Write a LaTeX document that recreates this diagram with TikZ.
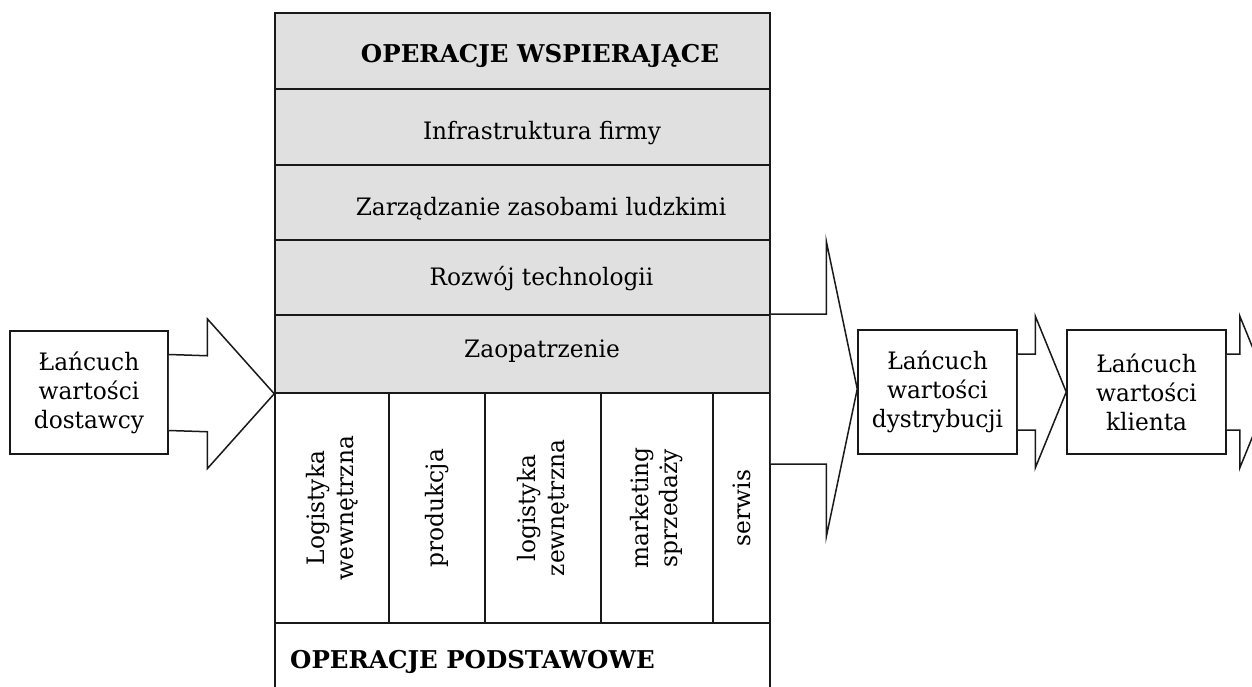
\documentclass[tikz,border=0pt]{standalone}
\usepackage{fontspec}
\setmainfont{DejaVu Serif}[FakeStretch=0.97]
\newfontfamily\headfont{DejaVu Serif}
\usetikzlibrary{calc}

\tikzset{
  frame/.style={draw=black!90, line width=1.5pt, inner sep=0pt},
  band/.style={frame, fill=black!12, minimum width=495pt},
  column/.style={frame, fill=white, minimum height=230pt},
  chainbox/.style={frame, fill=white, minimum width=158pt, minimum height=123pt,
    align=center, font=\fontsize{24}{29}\selectfont},
  rowtext/.style={inner sep=0pt, anchor=base, font=\fontsize{24}{29}\selectfont},
  headtext/.style={inner sep=0pt, font=\headfont\bfseries\fontsize{24.5}{29}\selectfont},
  coltext/.style={inner sep=0pt, rotate=90, align=center, font=\fontsize{24}{29}\selectfont},
  blockarrow/.style={draw=black!90, line width=1.5pt, fill=white, line join=miter}
}

\begin{document}
\begin{tikzpicture}[x=1pt, y=-1pt]
\useasboundingbox (0,0) rectangle (1252,687);
\clip (0,0) rectangle (1252,687);

% support activities
\node[band, minimum height=76pt] (r0) at (522.5,51)    {};
\node[band, minimum height=76pt] (r1) at (522.5,127)   {};
\node[band, minimum height=75pt] (r2) at (522.5,202.5) {};
\node[band, minimum height=75pt] (r3) at (522.5,277.5) {};
\node[band, minimum height=78pt] (r4) at (522.5,354)   {};

\node[headtext, anchor=base] (t0) at (540,62.5) {OPERACJE WSPIERAJĄCE};
\node[rowtext] (t1) at (542,140) {Infrastruktura firmy};
\node[rowtext] (t2) at (541,215) {Zarządzanie zasobami ludzkimi};
\node[rowtext] (t3) at (541.5,285) {Rozwój technologii};
\node[rowtext] (t4) at (542,357) {Zaopatrzenie};

% primary activities
\node[column, minimum width=114pt] (c1) at (332,508)   {};
\node[column, minimum width=96pt]  (c2) at (437,508)   {};
\node[column, minimum width=116pt] (c3) at (543,508)   {};
\node[column, minimum width=112pt] (c4) at (657,508)   {};
\node[column, minimum width=57pt]  (c5) at (741.5,508) {};

\node[coltext] (k1) at (c1) {Logistyka\\wewnętrzna};
\node[coltext] (k2) at (c2) {produkcja};
\node[coltext] (k3) at (c3) {logistyka\\zewnętrzna};
\node[coltext] (k4) at (c4) {marketing\\sprzedaży};
\node[coltext] (k5) at (c5) {serwis};

\node[frame, fill=white, minimum width=495pt, minimum height=77pt] (base) at (522.5,661.5) {};
\node[headtext, anchor=base west] (tb) at (290,668) {OPERACJE PODSTAWOWE};

% neighbouring value chains
\node[chainbox] (sup)    at (89,392.5)    {Łańcuch\\wartości\\dostawcy};
\node[chainbox, minimum width=159pt, minimum height=124pt] (dist)   at (937.5,392)  {Łańcuch\\wartości\\dystrybucji};
\node[chainbox, minimum width=159pt, minimum height=124pt] (client) at (1146.5,392) {Łańcuch\\wartości\\klienta};

% block arrows
\coordinate (tipA) at (r4.south west);
\draw[blockarrow] ($(sup.east)+(0,-38)$) -- ($(tipA)+(-67,-38)$) -- ($(tipA)+(-67,-75)$)
  -- (tipA) -- ($(tipA)+(-67,75)$) -- ($(tipA)+(-67,38)$) -- ($(sup.east)+(0,38)$);

\coordinate (tipB) at ($(dist.west)+(0,-3)$);
\draw[blockarrow] ($(r3.east |- tipB)+(0,-75)$) -- ($(tipB)+(-31,-75)$) -- ($(tipB)+(-31,-148)$)
  -- (tipB) -- ($(tipB)+(-31,148)$) -- ($(tipB)+(-31,75)$) -- ($(r3.east |- tipB)+(0,75)$);

\coordinate (tipC) at (client.west);
\draw[blockarrow] ($(dist.east)+(0,-38)$) -- ($(tipC)+(-31,-38)$) -- ($(tipC)+(-31,-76)$)
  -- (tipC) -- ($(tipC)+(-31,76)$) -- ($(tipC)+(-31,38)$) -- ($(dist.east)+(0,38)$);

\coordinate (tipD) at ($(client.east)+(44,0)$);
\draw[blockarrow] ($(client.east)+(0,-38)$) -- ($(tipD)+(-31,-38)$) -- ($(tipD)+(-31,-76)$)
  -- (tipD) -- ($(tipD)+(-31,76)$) -- ($(tipD)+(-31,38)$) -- ($(client.east)+(0,38)$);
\end{tikzpicture}
\end{document}
